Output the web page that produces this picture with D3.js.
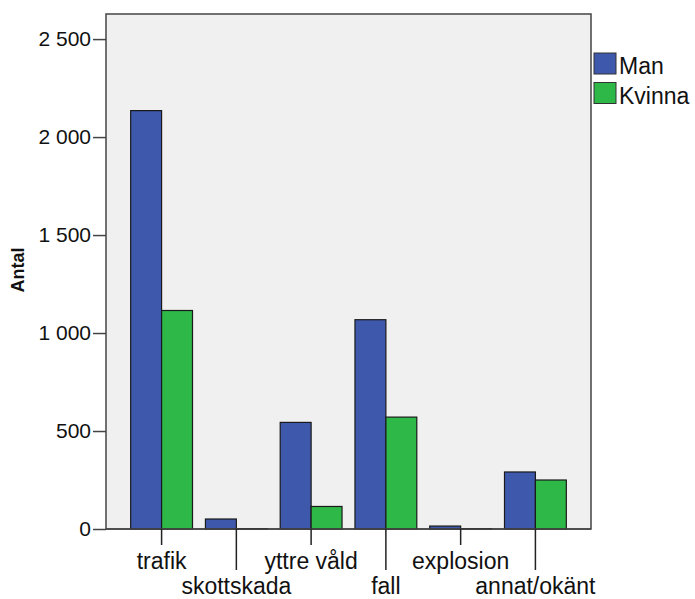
<!DOCTYPE html>
<html>
<head>
<meta charset="utf-8">
<script src="https://cdn.jsdelivr.net/npm/d3@7"></script>
<style>
  body { margin: 0; background: #fff; }
  text { font-family: "Liberation Sans", Arial, sans-serif; fill: #111; }
</style>
</head>
<body>
<svg class="chart"></svg>
<script>
const categories = ['trafik', 'skottskada', 'yttre våld', 'fall', 'explosion', 'annat/okänt'];
const series = ['Man', 'Kvinna'];
const manValues = [2135, 51, 544, 1068, 15, 291];
const kvinnaValues = [1115, 2, 115, 571, 2, 250];
const yTicks = [0, 500, 1000, 1500, 2000, 2500];
const colors = ['#3e58ac', '#2eb848'];

const width = 695, height = 599;
const plot = {left: 106, top: 14, right: 591, bottom: 529};

const svg = d3.select('.chart')
  .attr('width', width)
  .attr('height', height);

const x = d3.scaleBand()
  .domain(categories)
  .range([plot.left, plot.right])
  .paddingInner(0.173)
  .paddingOuter(0.33);

const xSub = d3.scaleBand()
  .domain(series)
  .range([0, x.bandwidth()]);

const y = d3.scaleLinear()
  .domain([0, 2628])
  .range([plot.bottom, plot.top]);

const fmt = d => d3.format(',')(d).replace(',', ' ');

// plot background
svg.append('rect')
  .attr('x', plot.left).attr('y', plot.top)
  .attr('width', plot.right - plot.left)
  .attr('height', plot.bottom - plot.top)
  .attr('fill', '#f0f0f0')
  .attr('stroke', '#444')
  .attr('stroke-width', 1.5);

const rows = categories.map((c, i) => ({cat: c, values: [manValues[i], kvinnaValues[i]]}));

const groups = svg.append('g').selectAll('g').data(rows)
  .enter().append('g')
  .attr('transform', d => `translate(${x(d.cat)},0)`);

groups.selectAll('rect')
  .data(d => d.values.map((v, j) => ({key: series[j], v: v, j: j})))
  .enter().append('rect')
  .attr('x', d => xSub(d.key))
  .attr('y', d => y(d.v))
  .attr('width', xSub.bandwidth())
  .attr('height', d => y(0) - y(d.v))
  .attr('fill', d => colors[d.j])
  .attr('stroke', '#1a1a1a')
  .attr('stroke-width', 1.2);

// y axis
const yAxis = d3.axisLeft(y)
  .tickValues(yTicks)
  .tickFormat(fmt)
  .tickSize(13)
  .tickPadding(2);

const gy = svg.append('g')
  .attr('transform', `translate(${plot.left},0)`)
  .call(yAxis);
gy.select('.domain').remove();
gy.selectAll('.tick line').attr('stroke', '#444').attr('stroke-width', 1.5);
gy.selectAll('.tick text')
  .style('font-size', '21px')
  .attr('fill', '#111');

// x axis with staggered labels
const gx = svg.append('g')
  .attr('transform', `translate(0,${plot.bottom})`);

gx.append('line')
  .attr('x1', plot.left).attr('x2', plot.right)
  .attr('stroke', '#444').attr('stroke-width', 1.5);

const xt = gx.selectAll('.tick').data(categories)
  .enter().append('g')
  .attr('class', 'tick')
  .attr('transform', d => `translate(${x(d) + x.bandwidth() / 2},0)`);

xt.append('line')
  .attr('y2', (d, i) => i % 2 === 0 ? 16 : 41)
  .attr('stroke', '#222').attr('stroke-width', 1.5);

xt.append('text')
  .attr('text-anchor', 'middle')
  .attr('y', (d, i) => i % 2 === 0 ? 40 : 65)
  .style('font-size', '23px')
  .text(d => d);

// y label
svg.append('text')
  .attr('transform', 'translate(24,270) rotate(-90)')
  .attr('text-anchor', 'middle')
  .style('font-size', '18px')
  .style('font-weight', 'bold')
  .text('Antal');

// legend
const legend = svg.append('g').selectAll('g').data(series)
  .enter().append('g')
  .attr('transform', (d, i) => `translate(594,${53 + i * 29.5})`);

legend.append('rect')
  .attr('width', 22).attr('height', 21)
  .attr('fill', (d, i) => colors[i])
  .attr('stroke', '#333').attr('stroke-width', 1);

legend.append('text')
  .attr('x', 25).attr('y', 21)
  .style('font-size', '23px')
  .text(d => d);
</script>
</body>
</html>
